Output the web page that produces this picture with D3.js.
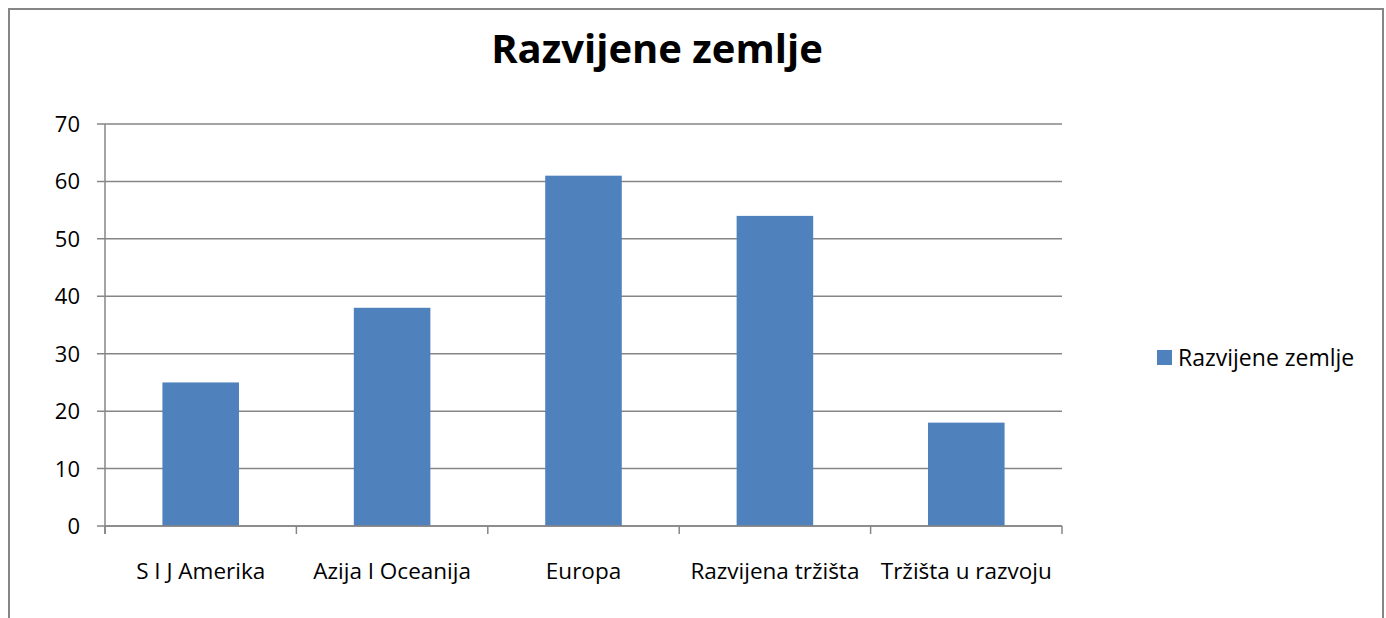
<!DOCTYPE html>
<html>
<head>
<meta charset="utf-8">
<script src="https://cdn.jsdelivr.net/npm/d3@7"></script>
<style>
body { margin: 0; background: #fff; }
text { font-family: "Open Sans", "Liberation Sans", sans-serif; fill: #000; }
</style>
</head>
<body>
<div id="chart"></div>
<script>
var categories = ["S I J Amerika", "Azija I Oceanija", "Europa", "Razvijena tržišta", "Tržišta u razvoju"];
var values = [25, 38, 61, 54, 18];
var yTicks = [0, 10, 20, 30, 40, 50, 60, 70];
var seriesName = "Razvijene zemlje";
var title = "Razvijene zemlje";

var width = 1386, height = 618;
var plotLeft = 105, plotRight = 1062, plotTop = 124, plotBottom = 526;

var svg = d3.select("#chart").append("svg").attr("width", width).attr("height", height);

// chart border (bottom edge is off the picture)
svg.append("path")
    .attr("d", "M9,620 L9,9 L1383,9 L1383,620")
    .attr("fill", "none").attr("stroke", "#868686").attr("stroke-width", 2);

svg.append("text").attr("x", 657).attr("y", 63)
    .attr("text-anchor", "middle")
    .style("font-size", "40px").style("font-weight", "bold")
    .text(title);

var x = d3.scaleBand().domain(categories).range([plotLeft, plotRight]);
var y = d3.scaleLinear().domain([0, 70]).range([plotBottom, plotTop]);

// gridlines
svg.append("g").selectAll("line").data(yTicks).enter().append("line")
    .attr("x1", plotLeft - 8).attr("x2", plotRight)
    .attr("y1", function(d) { return y(d); }).attr("y2", function(d) { return y(d); })
    .attr("stroke", "#868686").attr("stroke-width", 1.5);

svg.append("g").selectAll("text").data(yTicks).enter().append("text")
    .attr("x", 80).attr("y", function(d) { return y(d) + 8; })
    .attr("text-anchor", "end").style("font-size", "22px")
    .text(function(d) { return d; });

// bars
var bw = x.bandwidth() * 0.4;
svg.append("g").selectAll("rect").data(values).enter().append("rect")
    .attr("x", function(d, i) { return x(categories[i]) + x.bandwidth() / 2 - bw / 2; })
    .attr("y", function(d) { return y(d); })
    .attr("width", bw)
    .attr("height", function(d) { return plotBottom - y(d); })
    .attr("fill", "#4F81BD");

// axes
svg.append("line").attr("x1", plotLeft).attr("x2", plotLeft).attr("y1", plotTop).attr("y2", plotBottom + 8)
    .attr("stroke", "#868686").attr("stroke-width", 1.5);
svg.append("line").attr("x1", plotLeft).attr("x2", plotRight).attr("y1", plotBottom).attr("y2", plotBottom)
    .attr("stroke", "#868686").attr("stroke-width", 1.5);

var bounds = categories.map(function(c) { return x(c); }).concat([plotRight]);
svg.append("g").selectAll("line").data(bounds).enter().append("line")
    .attr("x1", function(d) { return d; }).attr("x2", function(d) { return d; })
    .attr("y1", plotBottom).attr("y2", plotBottom + 8)
    .attr("stroke", "#868686").attr("stroke-width", 1.5);

svg.append("g").selectAll("text").data(categories).enter().append("text")
    .attr("x", function(d) { return x(d) + x.bandwidth() / 2; })
    .attr("y", 579)
    .attr("text-anchor", "middle").style("font-size", "22.5px")
    .text(function(d) { return d; });

// legend
svg.append("rect").attr("x", 1157).attr("y", 350).attr("width", 15).attr("height", 15).attr("fill", "#4F81BD");
svg.append("text").attr("x", 1178).attr("y", 366).style("font-size", "23px").text(seriesName);
</script>
</body>
</html>
